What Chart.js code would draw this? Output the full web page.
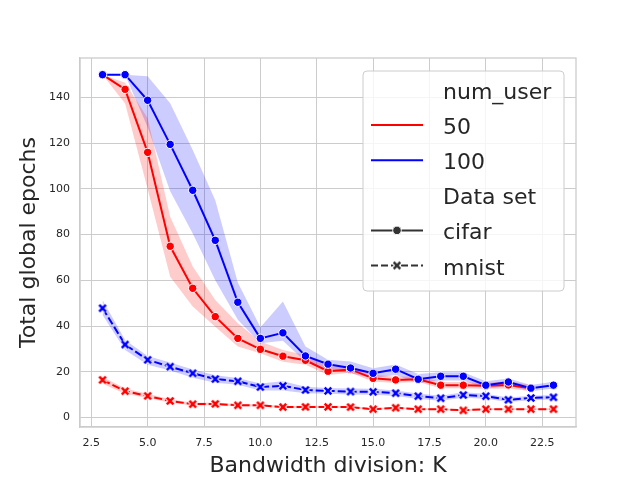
<!DOCTYPE html>
<html>
<head>
<meta charset="utf-8">
<title>Total global epochs vs bandwidth division</title>
<script src="https://cdn.jsdelivr.net/npm/chart.js@4.4.1/dist/chart.umd.min.js"></script>
<style>
    html, body { margin: 0; padding: 0; background: #ffffff; }
    canvas { display: block; }
</style>
</head>
<body>
<canvas id="chartContext" width="640" height="480"></canvas>
<script>
// Bandwidth division K (x values)
const kValues = [3, 4, 5, 6, 7, 8, 9, 10, 11, 12, 13, 14, 15, 16, 17, 18, 19, 20, 21, 22, 23];

// cifar, 50 users (no run at K = 23)
const cifar50Mean  = [150, 143.6, 116.0, 74.9, 56.5, 44.1, 34.6, 29.8, 26.8, 25.0, 20.2, 21.0, 17.1, 16.4, 16.7, 14.1, 14.1, 13.8, 14.2, 12.8];
const cifar50Low   = [150, 137.4, 100.0, 61.6, 48.5, 39.7, 31.0, 28.1, 24.4, 23.0, 18.6, 19.5, 15.6, 15.2, 15.5, 12.8, 12.8, 12.5, 12.6, 11.4];
const cifar50High  = [150, 146.5, 131.0, 87.8, 66.0, 51.4, 41.2, 33.2, 29.5, 27.3, 22.2, 22.5, 18.8, 17.8, 18.0, 15.5, 15.5, 15.1, 15.8, 14.2];

// cifar, 100 users
const cifar100Mean = [150, 150, 138.8, 119.5, 99.4, 77.5, 50.4, 34.6, 37.0, 26.9, 23.3, 21.6, 19.3, 21.1, 16.7, 18.0, 18.0, 14.1, 15.5, 12.8, 14.1];
const cifar100Low  = [150, 150, 127.0, 99.0, 80.5, 60.0, 42.7, 32.5, 33.5, 24.4, 20.8, 19.3, 17.1, 18.6, 15.0, 16.1, 16.1, 12.5, 13.8, 11.4, 12.6];
const cifar100High = [150, 150, 149.3, 137.5, 117.0, 95.0, 59.0, 39.5, 50.7, 31.0, 25.2, 24.5, 21.5, 23.2, 19.0, 19.8, 19.8, 15.8, 17.0, 14.2, 15.6];

// mnist, 50 users
const mnist50Mean  = [16.4, 11.5, 9.4, 7.2, 5.8, 5.9, 5.3, 5.3, 4.5, 4.6, 4.6, 4.5, 3.6, 4.2, 3.6, 3.6, 3.1, 3.6, 3.6, 3.6, 3.6];
const mnist50Low   = [14.7, 10.3, 8.5, 6.4, 5.2, 5.3, 4.8, 4.8, 4.0, 4.1, 4.1, 4.0, 3.2, 3.8, 3.2, 3.2, 2.7, 3.2, 3.2, 3.2, 3.2];
const mnist50High  = [17.8, 12.7, 10.3, 8.0, 6.4, 6.5, 5.8, 5.8, 5.0, 5.1, 5.1, 5.0, 4.0, 4.6, 4.0, 4.0, 3.5, 4.0, 4.0, 4.0, 4.0];

// mnist, 100 users
const mnist100Mean = [47.8, 31.9, 25.2, 22.2, 19.3, 16.8, 15.8, 13.3, 13.8, 12.0, 11.6, 11.3, 11.2, 10.6, 9.3, 8.4, 9.8, 9.3, 7.7, 8.5, 8.8];
const mnist100Low  = [44.8, 29.5, 23.0, 20.5, 17.4, 15.2, 14.3, 11.8, 11.8, 10.6, 10.3, 10.0, 9.9, 9.4, 8.1, 7.3, 8.6, 8.2, 6.7, 7.5, 7.8];
const mnist100High = [51.4, 33.9, 26.9, 24.0, 21.0, 18.4, 17.3, 14.8, 15.8, 13.4, 12.9, 12.6, 12.5, 11.8, 10.5, 9.5, 11.0, 10.4, 8.7, 9.5, 9.8];

// Tick values and texts
const xTicks = [2.5, 5.0, 7.5, 10.0, 12.5, 15.0, 17.5, 20.0, 22.5];
const yTicks = [0, 20, 40, 60, 80, 100, 120, 140];
const xTitle = "Bandwidth division: K";
const yTitle = "Total global epochs";

// Legend: section titles and entries
const hueTitle = "num_user";
const hueLabels = ["50", "100"];
const styleTitle = "Data set";
const styleLabels = ["cifar", "mnist"];

const RED = "#ff0000";
const BLUE = "#0000ff";
const INK = "#262626";
const GRID = "#cccccc";
const HANDLE = "#333333";

Chart.defaults.font.family = "'DejaVu Sans', sans-serif";

/**
 * Builds a small canvas holding an "X" marker with a white edge
 */
function makeCross(color, half) {
    const c = document.createElement("canvas");
    c.width = 16;
    c.height = 16;
    const g = c.getContext("2d");
    const drawX = (w, col) => {
        g.strokeStyle = col;
        g.lineWidth = w;
        g.lineCap = "butt";
        g.beginPath();
        g.moveTo(8 - half, 8 - half); g.lineTo(8 + half, 8 + half);
        g.moveTo(8 + half, 8 - half); g.lineTo(8 - half, 8 + half);
        g.stroke();
    };
    drawX(4.6, "#ffffff");
    drawX(2.6, color);
    return c;
}

// Pair x values with y values
function toPoints(values) {
    return values.map((v, i) => ({ x: kValues[i], y: v }));
}

// Lower + upper dataset, filled between each other
function bandSets(low, high, color) {
    return [
        { data: toPoints(low), borderWidth: 0, pointRadius: 0, fill: false, order: 10 },
        { data: toPoints(high), borderWidth: 0, pointRadius: 0, fill: "-1", backgroundColor: color, order: 10 },
    ];
}

// Main line with markers
function lineSet(values, color, dashed, order) {
    return {
        data: toPoints(values),
        borderColor: color,
        borderWidth: 2,
        borderDash: dashed ? [8, 3] : [],
        pointStyle: dashed ? makeCross(color, 3.3) : "circle",
        pointRadius: 4.2,
        pointBackgroundColor: color,
        pointBorderColor: "#ffffff",
        pointBorderWidth: 1,
        fill: false,
        order: order,
    };
}

// Light gray frame round the plot area (top and right spines too)
const framePlugin = {
    id: "frame",
    afterDatasetsDraw(chart) {
        const a = chart.chartArea;
        const ctx = chart.ctx;
        ctx.save();
        ctx.strokeStyle = GRID;
        ctx.lineWidth = 1.3;
        ctx.strokeRect(a.left, a.top, a.right - a.left, a.bottom - a.top);
        ctx.restore();
    },
};

// Seaborn-like legend with two titled sections
const legendPlugin = {
    id: "seabornLegend",
    afterDraw(chart) {
        const ctx = chart.ctx;
        const box = { x: 363, y: 71, w: 201, h: 220, r: 4 };
        ctx.save();
        ctx.beginPath();
        ctx.roundRect(box.x, box.y, box.w, box.h, box.r);
        ctx.fillStyle = "rgba(255,255,255,0.8)";
        ctx.fill();
        ctx.strokeStyle = GRID;
        ctx.lineWidth = 1;
        ctx.stroke();

        const rows = [
            { text: hueTitle },
            { text: hueLabels[0], color: RED },
            { text: hueLabels[1], color: BLUE },
            { text: styleTitle },
            { text: styleLabels[0], color: HANDLE, marker: "circle" },
            { text: styleLabels[1], color: HANDLE, marker: "cross", dashed: true },
        ];
        const textX = 443;
        const x0 = 371, x1 = 423;
        ctx.font = "22px 'DejaVu Sans'";
        ctx.textBaseline = "alphabetic";
        ctx.textAlign = "left";
        rows.forEach((row, i) => {
            const base = 99 + i * 35.1;
            const mid = base - 9;
            if (row.color) {
                ctx.strokeStyle = row.color;
                ctx.lineWidth = 2;
                ctx.setLineDash(row.dashed ? [7, 3] : []);
                ctx.beginPath();
                ctx.moveTo(x0, mid);
                ctx.lineTo(x1, mid);
                ctx.stroke();
                ctx.setLineDash([]);
                const cx = (x0 + x1) / 2;
                if (row.marker === "circle") {
                    ctx.beginPath();
                    ctx.arc(cx, mid, 4.3, 0, Math.PI * 2);
                    ctx.fillStyle = row.color;
                    ctx.fill();
                    ctx.strokeStyle = "#ffffff";
                    ctx.lineWidth = 1;
                    ctx.stroke();
                } else if (row.marker === "cross") {
                    ctx.drawImage(makeCross(row.color, 3.3), cx - 8, mid - 8);
                }
            }
            ctx.fillStyle = INK;
            ctx.fillText(row.text, textX, base);
        });
        ctx.restore();
    },
};

const datasets = [
    ...bandSets(cifar50Low, cifar50High, "rgba(255,0,0,0.2)"),
    ...bandSets(mnist50Low, mnist50High, "rgba(255,0,0,0.2)"),
    ...bandSets(cifar100Low, cifar100High, "rgba(0,0,255,0.2)"),
    ...bandSets(mnist100Low, mnist100High, "rgba(0,0,255,0.2)"),
    lineSet(cifar50Mean, RED, false, 4),
    lineSet(mnist50Mean, RED, true, 3),
    lineSet(cifar100Mean, BLUE, false, 2),
    lineSet(mnist100Mean, BLUE, true, 1),
];

new Chart(document.getElementById("chartContext"), {
    type: "line",
    data: { datasets: datasets },
    plugins: [framePlugin, legendPlugin],
    options: {
        responsive: false,
        animation: false,
        events: [],
        layout: { padding: { left: 0, top: 58, right: 64, bottom: 0 } },
        elements: { line: { tension: 0 } },
        plugins: {
            legend: { display: false },
            tooltip: { enabled: false },
        },
        scales: {
            x: {
                type: "linear",
                min: 2,
                max: 24,
                afterBuildTicks: (scale) => { scale.ticks = xTicks.map((v) => ({ value: v })); },
                afterFit: (scale) => { scale.height = 53; },
                ticks: {
                    callback: (v) => v.toFixed(1),
                    color: INK,
                    font: { size: 11 },
                    padding: 10,
                    maxRotation: 0,
                },
                grid: { color: GRID, lineWidth: 1, drawTicks: false, tickLength: 0 },
                border: { color: GRID, width: 1.3 },
                title: {
                    display: true,
                    text: xTitle,
                    color: INK,
                    font: { size: 22, lineHeight: 1 },
                    padding: { top: 0, bottom: 3 },
                },
            },
            y: {
                type: "linear",
                min: -4.2,
                max: 157.3,
                afterBuildTicks: (scale) => { scale.ticks = yTicks.map((v) => ({ value: v })); },
                afterFit: (scale) => { scale.width = 80; },
                ticks: {
                    color: INK,
                    font: { size: 11 },
                    padding: 10,
                },
                grid: { color: GRID, lineWidth: 1, drawTicks: false, tickLength: 0 },
                border: { color: GRID, width: 1.3 },
                title: {
                    display: true,
                    text: yTitle,
                    color: INK,
                    font: { size: 22, lineHeight: 1 },
                    padding: { top: 18, bottom: 0 },
                },
            },
        },
    },
});
</script>
</body>
</html>
